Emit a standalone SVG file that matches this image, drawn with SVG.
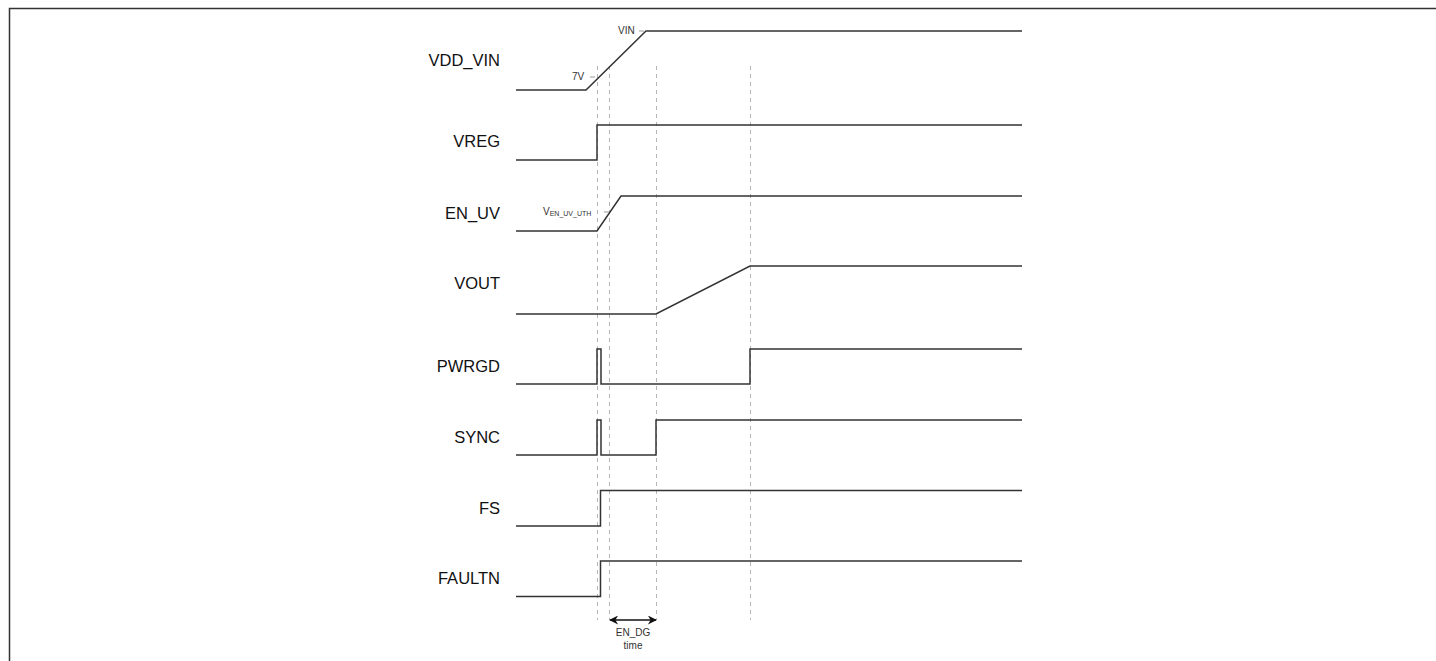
<svg xmlns="http://www.w3.org/2000/svg" width="1436" height="661" viewBox="0 0 1436 661">
<style>
.lbl{font-family:"Liberation Sans",Arial,sans-serif;font-size:16.5px;fill:#111;text-anchor:end}
.sm{font-family:"Liberation Sans",Arial,sans-serif;font-size:10px;fill:#333}
.sig{fill:none;stroke:#333;stroke-width:1.5;stroke-linejoin:miter}
.guide{fill:none;stroke:#b5b5b5;stroke-width:1;stroke-dasharray:4 4}
.tick{fill:none;stroke:#999;stroke-width:1}
</style>
<defs>
<marker id="ah" viewBox="0 0 10 10" refX="9" refY="5" markerWidth="10" markerHeight="9" orient="auto-start-reverse" markerUnits="userSpaceOnUse">
<path d="M0,0 L10,5 L0,10 L3,5 z" fill="#111"/>
</marker>
</defs>
<rect width="1436" height="661" fill="#fff"/>
<path d="M9.5,661 V8.5 H1436" fill="none" stroke="#333" stroke-width="1.5"/>
<g id="guides">
<line class="guide" x1="597.5" y1="66" x2="597.5" y2="620"/>
<line class="guide" x1="609.5" y1="66" x2="609.5" y2="620"/>
<line class="guide" x1="656.5" y1="66" x2="656.5" y2="620"/>
<line class="guide" x1="750.5" y1="66" x2="750.5" y2="620"/>
</g>
<g id="sig-vdd">
<text class="lbl" x="500" y="66">VDD_VIN</text>
<path class="sig" d="M516,90 H586 L646,31 H1022"/>
<text class="sm" x="572" y="80">7V</text>
<line class="tick" x1="590" y1="77" x2="595" y2="77"/>
<text class="sm" x="618" y="34">VIN</text>
<line class="tick" x1="639" y1="31" x2="644" y2="31"/>
</g>
<g id="sig-vreg">
<text class="lbl" x="500" y="147">VREG</text>
<path class="sig" d="M516,160 H597 V125 H1022"/>
</g>
<g id="sig-enuv">
<text class="lbl" x="500" y="219">EN_UV</text>
<path class="sig" d="M516,231 H597 L621,196 H1022"/>
<text class="sm" x="543" y="215">V<tspan font-size="7" dy="1">EN_UV_UTH</tspan></text>
<line class="tick" x1="604" y1="212" x2="609" y2="212"/>
</g>
<g id="sig-vout">
<text class="lbl" x="500" y="289">VOUT</text>
<path class="sig" d="M516,314 H656 L750,266 H1022"/>
</g>
<g id="sig-pwrgd">
<text class="lbl" x="500" y="372">PWRGD</text>
<path class="sig" d="M516,384 H597 V349 H601 V384 H750 V349 H1022"/>
</g>
<g id="sig-sync">
<text class="lbl" x="500" y="443">SYNC</text>
<path class="sig" d="M516,455 H597 V420 H601 V455 H656 V420 H1022"/>
</g>
<g id="sig-fs">
<text class="lbl" x="500" y="514">FS</text>
<path class="sig" d="M516,526 H600.5 V490.5 H1022"/>
</g>
<g id="sig-faultn">
<text class="lbl" x="500" y="584">FAULTN</text>
<path class="sig" d="M516,596.5 H600.5 V561 H1022"/>
</g>
<g id="connectors">
<line x1="610" y1="620" x2="656" y2="620" stroke="#111" stroke-width="1.5" marker-start="url(#ah)" marker-end="url(#ah)"/>
</g>
<g id="dg-label">
<text class="sm" x="633" y="636" text-anchor="middle">EN_DG</text>
<text class="sm" x="633" y="649" text-anchor="middle">time</text>
</g>
</svg>
